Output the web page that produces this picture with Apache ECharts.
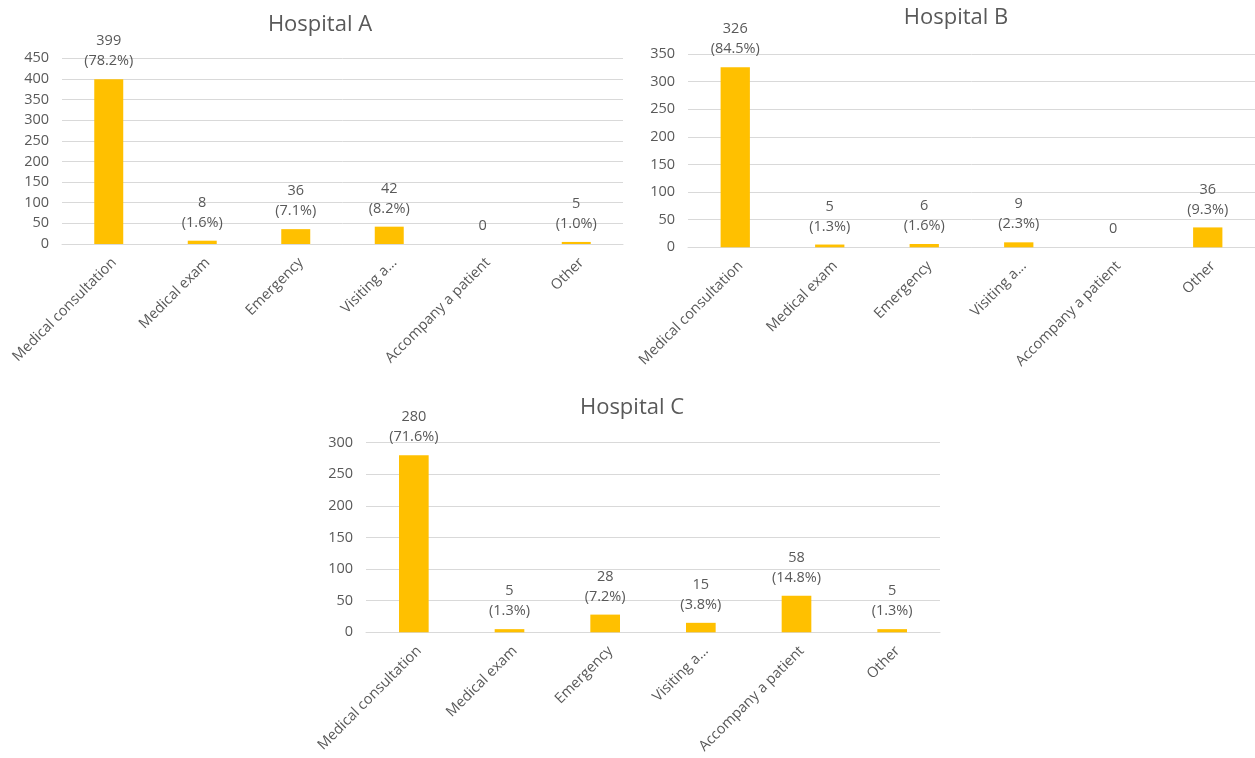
<!DOCTYPE html>
<html>
<head>
<meta charset="utf-8">
<script src="https://cdn.jsdelivr.net/npm/echarts@6/dist/echarts.min.js"></script>
<style>
  html, body { margin: 0; padding: 0; background: #ffffff; }
  #chart { width: 1255px; height: 758px; }
</style>
</head>
<body>
<div id="chart"></div>
<script>
// Visit reasons per hospital
const categories = ['Medical consultation', 'Medical exam', 'Emergency', 'Visiting a...', 'Accompany a patient', 'Other'];

const hospitalAValues = [399, 8, 36, 42, 0, 5];
const hospitalAShares = ['78.2', '1.6', '7.1', '8.2', null, '1.0'];

const hospitalBValues = [326, 5, 6, 9, 0, 36];
const hospitalBShares = ['84.5', '1.3', '1.6', '2.3', null, '9.3'];

const hospitalCValues = [280, 5, 28, 15, 58, 5];
const hospitalCShares = ['71.6', '1.3', '7.2', '3.8', '14.8', '1.3'];

const panelTitles = ['Hospital A', 'Hospital B', 'Hospital C'];
const axisMax = [450, 350, 300];

const FONT = '"Open Sans", sans-serif';
const TEXT = '#595959';
const GRID_LINE = '#d9d9d9';
const BAR = '#FFC000';
const LABEL_SIZE = 14.5;

const panels = [
  { values: hospitalAValues, shares: hospitalAShares, grid: { left: 62, top: 58.3, width: 561, height: 185.7 }, title: { left: 315, top: 9 } },
  { values: hospitalBValues, shares: hospitalBShares, grid: { left: 688, top: 54, width: 586, height: 193.3 }, title: { left: 951, top: 2 } },
  { values: hospitalCValues, shares: hospitalCShares, grid: { left: 366, top: 442.7, width: 574, height: 189.6 }, title: { left: 627, top: 392 } }
];

const option = {
  backgroundColor: '#ffffff',
  animation: false,
  textStyle: { fontFamily: FONT },
  title: panels.map((p, i) => ({
    text: panelTitles[i],
    left: p.title.left,
    top: p.title.top,
    textAlign: 'center',
    textStyle: { fontFamily: FONT, fontSize: 22, fontWeight: 'normal', color: TEXT }
  })),
  grid: panels.map(p => Object.assign({ containLabel: false }, p.grid)),
  xAxis: panels.map((p, i) => ({
    type: 'category',
    gridIndex: i,
    data: categories,
    axisLine: { lineStyle: { color: GRID_LINE, width: 1 } },
    axisTick: { show: false },
    axisLabel: {
      interval: 0,
      rotate: 45,
      margin: 11,
      verticalAlign: 'top',
      fontFamily: FONT,
      fontSize: LABEL_SIZE,
      color: TEXT
    }
  })),
  yAxis: panels.map((p, i) => ({
    type: 'value',
    gridIndex: i,
    min: 0,
    max: axisMax[i],
    interval: 50,
    axisLine: { show: false },
    axisTick: { show: false },
    splitLine: { lineStyle: { color: GRID_LINE, width: 1 } },
    axisLabel: { fontFamily: FONT, fontSize: LABEL_SIZE, color: TEXT, margin: 13 }
  })),
  series: panels.map((p, i) => ({
    type: 'bar',
    xAxisIndex: i,
    yAxisIndex: i,
    data: p.values,
    barWidth: '31%',
    itemStyle: { color: BAR },
    label: {
      show: true,
      position: 'top',
      distance: 8,
      fontFamily: FONT,
      fontSize: LABEL_SIZE,
      lineHeight: 20,
      color: TEXT,
      align: 'center',
      formatter: params => {
        const share = p.shares[params.dataIndex];
        return share === null ? String(params.value) : params.value + '\n(' + share + '%)';
      }
    }
  }))
};

const chart = echarts.init(document.getElementById('chart'), null, { renderer: 'canvas' });
chart.setOption(option);
</script>
</body>
</html>
